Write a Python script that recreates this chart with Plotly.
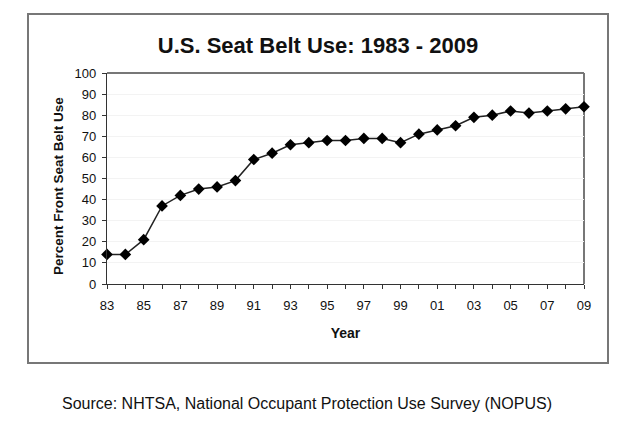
import plotly.graph_objects as go

years = list(range(1983, 2010))
belt_use = [14, 14, 21, 37, 42, 45, 46, 49, 59, 62, 66, 67, 68, 68, 69, 69, 67,
            71, 73, 75, 79, 80, 82, 81, 82, 83, 84]
tick_years = list(range(1983, 2010, 2))
tick_labels = [f"{y % 100:02d}" for y in tick_years]
y_ticks = list(range(0, 101, 10))

# page body has an 8px margin; lay out in screen coordinates, then offset
OFF = 8
W, H = 636 - OFF, 433 - OFF
L, R, T, B = 107 - OFF, 584 - OFF, 73 - OFF, 284 - OFF
pw, ph = R - L, B - T

def px(x):
    return (x - OFF - L) / pw

def py(y):
    return 1 - (y - OFF - T) / ph

fig = go.Figure()
fig.add_trace(go.Scatter(
    x=years, y=belt_use, mode="lines+markers",
    line=dict(color="#222222", width=1.5),
    marker=dict(symbol="diamond", size=9, color="black"),
    showlegend=False, cliponaxis=False,
))

font = "Arial, Liberation Sans, sans-serif"
fig.update_layout(
    width=W, height=H,
    margin=dict(l=L, r=W - R, t=T, b=H - B),
    paper_bgcolor="white", plot_bgcolor="white",
    font=dict(family=font, color="#111111", size=13),
    title=dict(text="<b>U.S. Seat Belt Use: 1983 - 2009</b>", x=px(318), xref="paper",
               xanchor="center", y=1 - (45 - OFF) / H, yanchor="middle",
               font=dict(size=22, color="#111111")),
    xaxis=dict(range=[1983, 2009], tickvals=tick_years, ticktext=tick_labels,
               showline=True, linecolor="#333333", linewidth=1.2, mirror=False,
               ticks="outside", ticklen=4, tickcolor="#333333",
               minor=dict(dtick=1, tick0=1983, ticks="outside", ticklen=4, tickcolor="#333333"),
               showgrid=False, zeroline=False, ticklabelstandoff=5,
               tickfont=dict(size=13),
               title=dict(text="<b>Year</b>", font=dict(size=14), standoff=16)),
    yaxis=dict(range=[0, 100], tickvals=y_ticks,
               showline=True, linecolor="#333333", linewidth=1.2,
               ticks="outside", ticklen=4, tickcolor="#333333",
               showgrid=True, gridcolor="#f3f3f3", zeroline=False,
               ticklabelstandoff=3,
               tickfont=dict(size=13)),
    shapes=[
        dict(type="line", xref="paper", yref="paper", x0=0, x1=1, y0=1, y1=1,
             line=dict(color="#777777", width=2), layer="below"),
        dict(type="line", xref="paper", yref="paper", x0=1, x1=1, y0=0, y1=1,
             line=dict(color="#777777", width=2), layer="below"),
        dict(type="rect", xref="paper", yref="paper",
             x0=px(28), x1=px(608), y0=py(363), y1=py(14),
             line=dict(color="#777777", width=2), fillcolor="rgba(0,0,0,0)"),
    ],
    annotations=[
        dict(text="<b>Percent Front Seat Belt Use</b>", textangle=-90,
             xref="paper", yref="paper", x=px(58), y=py(186),
             xanchor="center", yanchor="middle", showarrow=False,
             font=dict(size=13.5, color="#111111")),
        dict(text="Source: NHTSA, National Occupant Protection Use Survey (NOPUS)",
             xref="paper", yref="paper", x=px(307), y=py(403),
             xanchor="center", yanchor="middle", showarrow=False,
             font=dict(size=16, color="#111111")),
    ],
)

fig.write_html("out.html")
